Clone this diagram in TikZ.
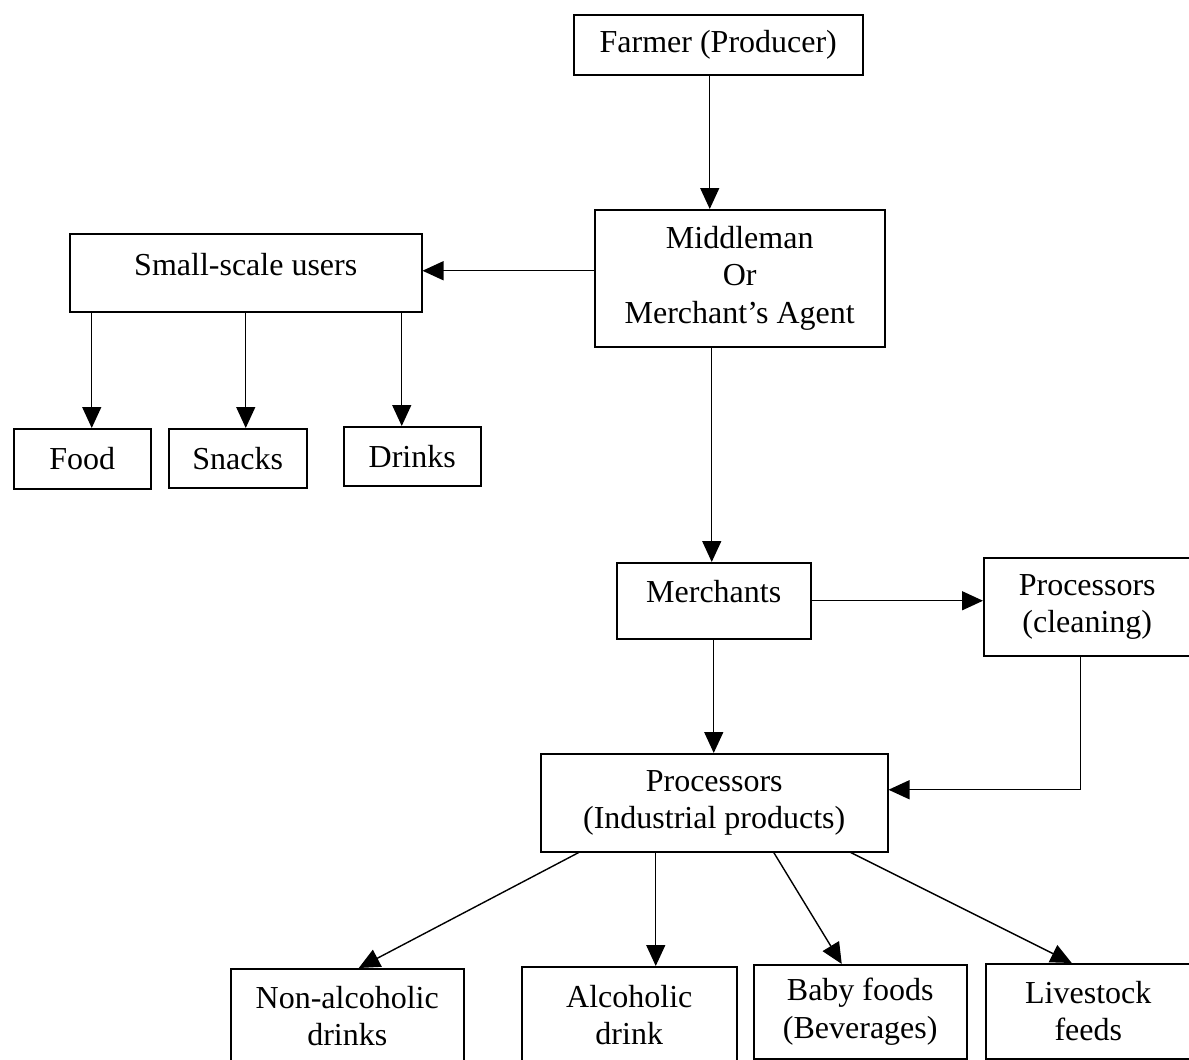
\documentclass[tikz,border=0pt]{standalone}
\usepackage{fontspec}
\setmainfont{Liberation Serif}
\usetikzlibrary{arrows.meta}
\begin{document}
\begin{tikzpicture}[x=1pt,y=-1pt,
  box/.style={draw, line width=1.5pt, inner sep=0pt, anchor=north west, align=center,
    font=\fontsize{32}{37.5}\selectfont},
  arr/.style={line width=1.4pt, -{Triangle[length=21pt,width=19pt]}}]
\useasboundingbox (0,0) rectangle (1189,1060);
\fill[white] (0,0) rectangle (1189,1060);
% nodes
\node[box, minimum width=289pt, minimum height=60pt] (farmer) at (573,14) {Farmer (Producer)};
\node[box, minimum width=290pt, minimum height=137pt] (mid) at (594,209) {Middleman\\Or\\Merchant's Agent};
\node[box, minimum width=352pt, minimum height=78pt, text depth=16pt] (small) at (69,233) {Small-scale users};
\node[box, minimum width=137pt, minimum height=60pt] (food) at (13,428) {Food};
\node[box, minimum width=138pt, minimum height=59pt] (snacks) at (168,428) {Snacks};
\node[box, minimum width=137pt, minimum height=59pt] (drinks) at (343,426) {Drinks};
\node[box, minimum width=194pt, minimum height=76pt, text depth=18pt] (merch) at (616,562) {Merchants};
\node[box, minimum width=207pt, minimum height=98pt] (clean) at (983,557) {Processors\\(cleaning)};
\node[box, minimum width=347pt, minimum height=98pt] (ind) at (540,753) {Processors\\(Industrial products)};
\node[box, minimum width=233pt, minimum height=95pt] (nonalc) at (230,968) {Non-alcoholic\\drinks};
\node[box, minimum width=215pt, minimum height=97pt] (alc) at (521,966) {Alcoholic\\drink};
\node[box, minimum width=213pt, minimum height=94pt] (baby) at (753,964) {Baby foods\\(Beverages)};
\node[box, minimum width=205pt, minimum height=95pt] (live) at (985,963) {Livestock\\feeds};
% connectors
\draw[arr] ([xshift=-8.5pt]farmer.south) -- ([xshift=-30pt]mid.north);
\draw[arr] ([yshift=7.5pt]mid.west) -- ([yshift=2pt]small.east);
\draw[arr] ([xshift=-154pt]small.south) -- ([xshift=9.5pt]food.north);
\draw[arr] (small.south) -- ([xshift=8pt]snacks.north);
\draw[arr] ([xshift=156pt]small.south) -- ([xshift=-10.5pt]drinks.north);
\draw[arr] ([xshift=-28pt]mid.south) -- ([xshift=-2pt]merch.north);
\draw[arr] (merch.east) -- ([yshift=6pt]clean.west);
\draw[arr] (merch.south) -- ([xshift=-0.5pt]ind.north);
\draw[arr] ([xshift=-6.5pt]clean.south) |- ([yshift=13pt]ind.east);
\draw[arr] ([xshift=-135.5pt]ind.south) -- ([xshift=11.5pt]nonalc.north);
\draw[arr] ([xshift=-58.5pt]ind.south) -- ([xshift=26.5pt]alc.north);
\draw[arr] ([xshift=59.5pt]ind.south) -- ([xshift=-18.5pt]baby.north);
\draw[arr] ([xshift=136.5pt]ind.south) -- ([xshift=-16.5pt]live.north);
\end{tikzpicture}
\end{document}
